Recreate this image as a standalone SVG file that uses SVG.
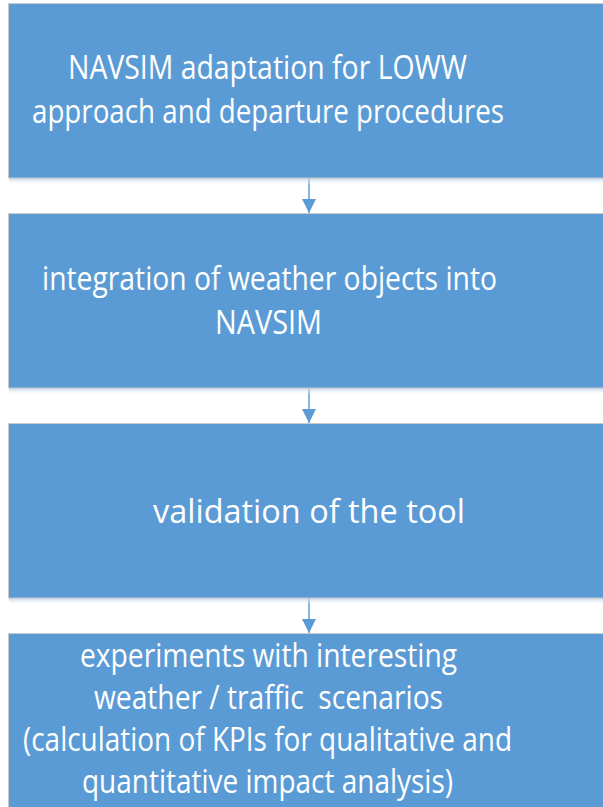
<svg xmlns="http://www.w3.org/2000/svg" width="603" height="807" viewBox="0 0 603 807">
  <defs>
    <linearGradient id="shadow" x1="0" y1="0" x2="0" y2="1">
      <stop offset="0" stop-color="#b9cfe6" stop-opacity="0.9"/>
      <stop offset="1" stop-color="#ffffff" stop-opacity="0"/>
    </linearGradient>
    <marker id="arrow" markerWidth="14" markerHeight="14" refX="14" refY="7" orient="auto" markerUnits="userSpaceOnUse" viewBox="0 0 14 14">
      <path d="M0,0 L14,7 L0,14 Z" fill="#5b9bd5"/>
    </marker>
  </defs>
  <style>
    .box { fill: #5b9bd5; stroke: #c9c9c9; stroke-width: 1; }
    .sh { fill: url(#shadow); }
    .label { font-family: "Open Sans", "Noto Sans", sans-serif; font-size: 32px; fill: #ffffff; }
    .conn { stroke: #5b9bd5; stroke-width: 1.5; fill: none; }
  </style>
  <rect width="603" height="807" fill="#ffffff"/>

  <g id="connectors">
    <line class="conn" x1="309" y1="178" x2="309" y2="213" marker-end="url(#arrow)"/>
    <line class="conn" x1="309" y1="388" x2="309" y2="423" marker-end="url(#arrow)"/>
    <line class="conn" x1="309" y1="598" x2="309" y2="633" marker-end="url(#arrow)"/>
  </g>

  <g id="node1">
    <rect class="sh" x="9" y="178" width="600" height="7"/>
    <rect class="box" x="8.5" y="3.5" width="620" height="174.5"/>
    <text class="label" x="68" y="79" textLength="399" lengthAdjust="spacingAndGlyphs">NAVSIM adaptation for LOWW</text>
    <text class="label" x="32" y="123" textLength="472" lengthAdjust="spacingAndGlyphs">approach and departure procedures</text>
  </g>

  <g id="node2">
    <rect class="sh" x="9" y="388" width="600" height="7"/>
    <rect class="box" x="8.5" y="213.5" width="620" height="174.5"/>
    <text class="label" x="42" y="290" textLength="455" lengthAdjust="spacingAndGlyphs">integration of weather objects into</text>
    <text class="label" x="215" y="334" textLength="107" lengthAdjust="spacingAndGlyphs">NAVSIM</text>
  </g>

  <g id="node3">
    <rect class="sh" x="9" y="598" width="600" height="7"/>
    <rect class="box" x="8.5" y="423.5" width="620" height="174.5"/>
    <text class="label" x="153" y="523" textLength="312" lengthAdjust="spacingAndGlyphs">validation of the tool</text>
  </g>

  <g id="node4">
    <rect class="box" x="8.5" y="633.5" width="620" height="200"/>
    <text class="label" x="80" y="667" textLength="377" lengthAdjust="spacingAndGlyphs">experiments with interesting</text>
    <text class="label" x="94" y="709" textLength="349" lengthAdjust="spacingAndGlyphs" xml:space="preserve">weather / traffic  scenarios</text>
    <text class="label" x="23" y="751" textLength="489" lengthAdjust="spacingAndGlyphs">(calculation of KPIs for qualitative and</text>
    <text class="label" x="82" y="793" textLength="371" lengthAdjust="spacingAndGlyphs">quantitative impact analysis)</text>
  </g>
</svg>
